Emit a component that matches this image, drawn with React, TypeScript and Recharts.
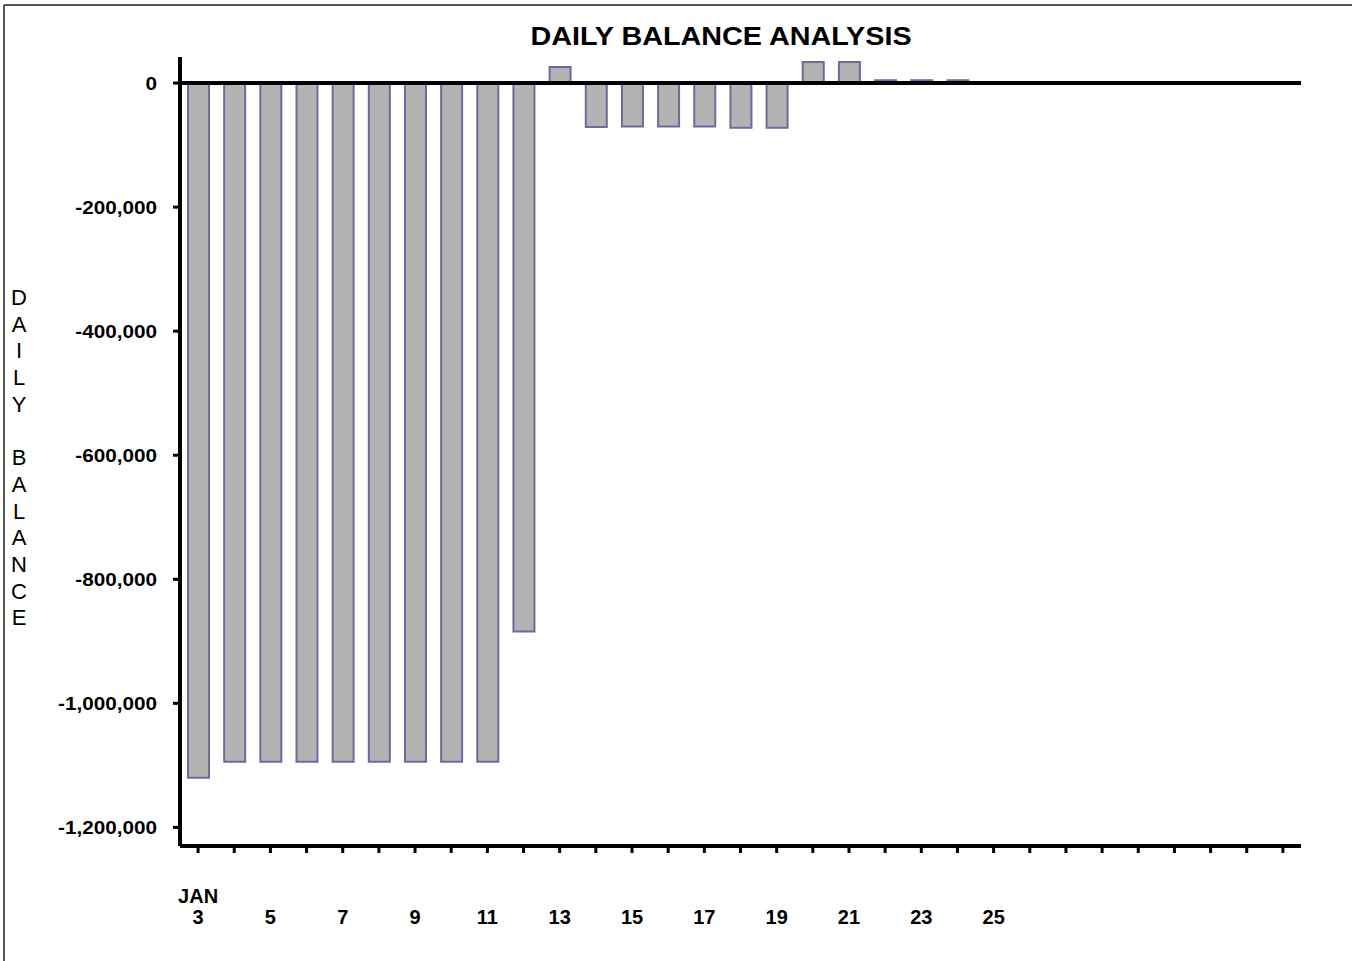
import { BarChart, Bar, XAxis, YAxis, ReferenceLine } from 'recharts';

// January days on the category axis (3rd to 33rd slot)
const days = [
  '3', '4', '5', '6', '7', '8', '9', '10', '11', '12',
  '13', '14', '15', '16', '17', '18', '19', '20', '21', '22',
  '23', '24', '25', '26', '27', '28', '29', '30', '31', '32', '33',
];

const balances: (number | null)[] = [
  -1120000, -1094000, -1094000, -1094000, -1094000, -1094000, -1094000, -1094000, -1094000, -884000,
  26000, -71000, -70000, -70000, -70000, -72000, -72000, 34000, 34000, 4500,
  4500, 4500, null, null, null, null, null, null, null, null, null,
];

const labeledDays = ['3', '5', '7', '9', '11', '13', '15', '17', '19', '21', '23', '25'];
const yTicks = [0, -200000, -400000, -600000, -800000, -1000000, -1200000];
const yLabelLetters = ['D', 'A', 'I', 'L', 'Y', '', 'B', 'A', 'L', 'A', 'N', 'C', 'E'];

const data = days.map((d, i) => ({ day: d, balance: balances[i] }));

const FONT = '"Liberation Sans", Arial, Helvetica, sans-serif';

const XTick = (props: any) => {
  const { x, y, payload } = props;
  const v = payload.value;
  if (!labeledDays.includes(v)) return null;
  return (
    <g transform={`translate(${x},${y})`}>
      {v === '3' && (
        <text x={0} y={48} textAnchor="middle" fontFamily={FONT} fontWeight="bold" fontSize={20} fill="#000">
          JAN
        </text>
      )}
      <text x={0} y={69} textAnchor="middle" fontFamily={FONT} fontWeight="bold" fontSize={20} fill="#000">
        {v}
      </text>
    </g>
  );
};

const YTick = (props: any) => {
  const { x, y, payload } = props;
  return (
    <g transform={`translate(${x},${y}) scale(1.15,1)`}>
      <text x={0} y={0} dy="0.36em" textAnchor="end" fontFamily={FONT} fontWeight="bold" fontSize={18} fill="#000">
        {payload.value.toLocaleString('en-US')}
      </text>
    </g>
  );
};

export default function App() {
  return (
    <div style={{ position: 'absolute', left: 0, top: 0, width: 1352, height: 961, background: '#fff' }}>
      <BarChart
        width={1352}
        height={961}
        data={data}
        margin={{ top: 57, right: 51, left: 0, bottom: 0 }}
        barCategoryGap={0}
      >
        <XAxis
          dataKey="day"
          interval={0}
          height={115}
          axisLine={{ stroke: '#000', strokeWidth: 4 }}
          tickLine={{ stroke: '#000', strokeWidth: 3 }}
          tickSize={7}
          tick={<XTick />}
        />
        <YAxis
          width={180}
          domain={[-1230000, 42000]}
          ticks={yTicks}
          interval={0}
          allowDataOverflow
          axisLine={{ stroke: '#000', strokeWidth: 4 }}
          tickLine={{ stroke: '#000', strokeWidth: 3 }}
          tickSize={7}
          tickMargin={16}
          tick={<YTick />}
        />
        <Bar
          dataKey="balance"
          barSize={21}
          fill="#b3b3b3"
          stroke="#6b6b9e"
          strokeWidth={2}
          isAnimationActive={false}
        />
        <ReferenceLine y={0} stroke="#000" strokeWidth={4} />
      </BarChart>

      <svg
        width={1352}
        height={961}
        style={{ position: 'absolute', left: 0, top: 0, pointerEvents: 'none' }}
      >
        <line x1={4} y1={5} x2={1352} y2={5} stroke="#555" strokeWidth={2} />
        <line x1={4} y1={5} x2={4} y2={961} stroke="#555" strokeWidth={2} />
        <g transform="translate(721,45) scale(1.15,1)">
          <text x={0} y={0} textAnchor="middle" fontFamily={FONT} fontWeight="bold" fontSize={25} fill="#000">
            DAILY BALANCE ANALYSIS
          </text>
        </g>
        <text fontFamily={FONT} fontSize={22} fill="#000" textAnchor="middle">
          {yLabelLetters.map((ch, i) => (
            <tspan key={i} x={19} y={305 + i * 26.7}>
              {ch}
            </tspan>
          ))}
        </text>
      </svg>
    </div>
  );
}
